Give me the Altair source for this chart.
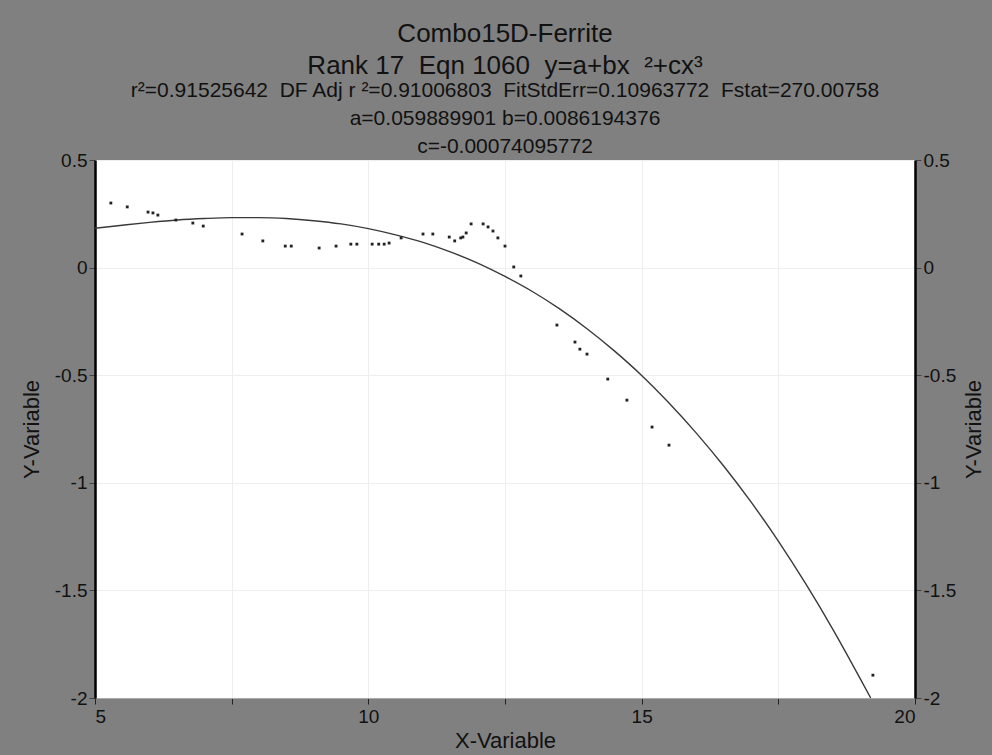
import altair as alt
import pandas as pd

pt_x = [5.29, 5.59, 5.97, 6.06, 6.15, 6.48, 6.79, 6.98, 7.69, 8.07, 8.48, 8.59, 9.10, 9.41,
        9.68, 9.79, 10.07, 10.19, 10.29, 10.38, 10.60, 11.00, 11.18, 11.48, 11.58, 11.69,
        11.73, 11.79, 11.88, 12.10, 12.19, 12.28, 12.37, 12.50, 12.66, 12.79, 13.45, 13.78,
        13.87, 14.00, 14.38, 14.73, 15.19, 15.50, 19.23]
pt_y = [0.300, 0.282, 0.258, 0.254, 0.244, 0.221, 0.207, 0.193, 0.156, 0.124, 0.100, 0.100,
        0.091, 0.100, 0.109, 0.109, 0.109, 0.109, 0.109, 0.114, 0.138, 0.156, 0.156, 0.142,
        0.124, 0.138, 0.142, 0.161, 0.203, 0.203, 0.189, 0.170, 0.138, 0.100, 0.003, -0.039,
        -0.267, -0.346, -0.379, -0.402, -0.518, -0.616, -0.741, -0.825, -1.894]

# Fitted curve
fit_x = [5, 5.5, 6, 6.5, 7, 7.5, 8, 8.5, 9, 9.5, 10, 10.5, 11, 11.5, 12, 12.5, 13, 13.5,
         14, 14.5, 15, 15.5, 16, 16.5, 17, 17.5, 18, 18.5, 19, 19.19]
fit_y = [0.183, 0.197, 0.210, 0.221, 0.228, 0.232, 0.232, 0.228, 0.218, 0.203, 0.181, 0.152,
         0.117, 0.073, 0.021, -0.041, -0.111, -0.192, -0.284, -0.387, -0.501, -0.629, -0.769,
         -0.922, -1.089, -1.271, -1.469, -1.682, -1.911, -2.0]

x_ticks = [5, 7.5, 10, 12.5, 15, 17.5, 20]
y_ticks = [-2, -1.5, -1, -0.5, 0, 0.5]

title_lines = ["Combo15D-Ferrite", "Rank 17\u00a0 Eqn 1060\u00a0 y=a+bx\u00a0 \u00b2+cx\u00b3"]
subtitle_lines = [
    "r\u00b2=0.91525642\u00a0 DF Adj r \u00b2=0.91006803\u00a0 FitStdErr=0.10963772\u00a0 Fstat=270.00758",
    "a=0.059889901 b=0.0086194376",
    "c=-0.00074095772",
]

pts = pd.DataFrame({"x": pt_x, "y": pt_y})
fit = pd.DataFrame({"x": fit_x, "y": fit_y})

FONT = "Liberation Sans"
TXT = "#111111"
xs = alt.Scale(domain=[5, 20], nice=False, zero=False)
ys = alt.Scale(domain=[-2, 0.5], nice=False, zero=False)

def x_axis():
    return alt.Axis(title="X-Variable", values=x_ticks,
                    labelExpr="datum.value % 5 == 0 ? '' + datum.value : ''",
                    grid=True, gridColor="#eeeeee", gridWidth=1,
                    domainColor="#aaaaaa", domainWidth=1,
                    tickColor="#222222", tickSize=6, tickWidth=1,
                    labelFont=FONT, labelFontSize=19, labelColor=TXT, labelPadding=3,
                    titleFont=FONT, titleFontSize=22, titleFontWeight="normal",
                    titleColor=TXT, titlePadding=4)

def y_axis(orient, pad, baseline):
    return alt.Axis(orient=orient, title="Y-Variable", values=y_ticks,
                    labelExpr="'' + datum.value",
                    grid=(orient == "left"), gridColor="#eeeeee", gridWidth=1,
                    domainColor="#000000", domainWidth=2.5,
                    tickColor="#444444", tickSize=6, tickWidth=1,
                    labelFont=FONT, labelFontSize=19, labelColor=TXT, labelPadding=2,
                    titleFont=FONT, titleFontSize=22, titleFontWeight="normal",
                    titleColor=TXT, titleAngle=270, titleBaseline=baseline,
                    titlePadding=pad)

line = alt.Chart(fit).mark_line(color="#3a3a3a", strokeWidth=1.4,
                                interpolate="monotone", clip=True).encode(
    x=alt.X("x:Q", scale=xs, axis=x_axis()),
    y=alt.Y("y:Q", scale=ys, axis=y_axis("left", 11, "bottom")),
)

points = alt.Chart(pts).mark_square(size=8, color="#222222", opacity=1).encode(
    x=alt.X("x:Q", scale=xs, axis=x_axis()),
    y=alt.Y("y:Q", scale=ys, axis=y_axis("right", 8, "top")),
)

chart = alt.layer(line, points).resolve_axis(y="independent").properties(
    width=820, height=538,
    padding={"left": 95, "top": 160, "right": 77, "bottom": 57},
    autosize=alt.AutoSizeParams(type="none"),
    title=alt.TitleParams(text=title_lines, subtitle=subtitle_lines,
                          font=FONT, fontSize=26, fontWeight="normal", lineHeight=32,
                          color=TXT, subtitleFont=FONT, subtitleFontSize=21,
                          subtitleLineHeight=28, subtitleColor=TXT, subtitlePadding=1,
                          anchor="middle", offset=-6),
    background="#808080",
).configure_view(fill="white", strokeWidth=0)

chart.save("out.html", embed_options={"renderer": "svg", "actions": False})
